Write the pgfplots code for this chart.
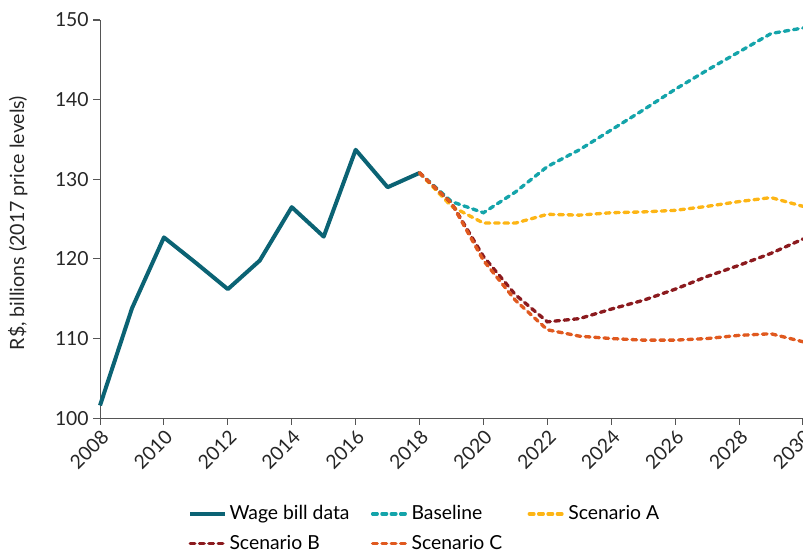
\documentclass[border=0pt]{standalone}
\usepackage{pgfplots}
\pgfplotsset{compat=1.18}
\usepackage{fontspec}
\setmainfont{Lato}
\definecolor{wage}{HTML}{0B6374}
\definecolor{base}{HTML}{14A4AA}
\definecolor{scA}{HTML}{FDB515}
\definecolor{scB}{HTML}{8B1A1E}
\definecolor{scC}{HTML}{E0591F}
\definecolor{axgray}{HTML}{555555}
\begin{document}
\begin{tikzpicture}
\begin{axis}[
  name=ax,
  at={(0,0)}, anchor=south west,
  scale only axis,
  width=527pt, height=298.5pt,
  xmin=2008, xmax=2030, ymin=100, ymax=150,
  xtick={2008,2010,...,2030},
  ytick={100,110,...,150},
  axis x line*=bottom, axis y line*=left,
  axis line style={axgray, line width=0.8pt},
  tick style={axgray, line width=0.8pt},
  tick align=outside,
  major tick length=5pt,
  x tick label style={/pgf/number format/1000 sep={}, rotate=45, anchor=north east, font=\fontsize{14.5}{17}\selectfont, text=black!85, inner sep=2pt},
  y tick label style={font=\fontsize{14.5}{17}\selectfont, text=black!85},
  /pgf/number format/assume math mode=true,
  ylabel={R\$, billions (2017 price levels)},
  ylabel style={font=\fontsize{14.7}{17}\selectfont, text=black!85, at={(axis description cs:-0.117,0.49)}, anchor=center},
  clip=false,
  legend style={at={(0.125,-0.2125)}, anchor=north west, draw=none, inner sep=0pt, font=\fontsize{14.5}{17}\selectfont, row sep=6pt},
  legend columns=3,
  legend cell align=left,
  legend image code/.code={\draw[#1] (0pt,0pt) -- (26pt,0pt);},
]
\addplot[wage, line width=3pt, line join=round] coordinates {
(2008,101.6) (2009,113.8) (2010,122.7) (2011,119.5) (2012,116.2) (2013,119.8) (2014,126.5) (2015,122.8) (2016,133.7) (2017,129.0) (2018,130.8)};
\addlegendentry{\makebox[104pt][l]{Wage bill data}}
\addplot[base, line width=2.5pt, dash pattern=on 3.5pt off 3.5pt, line cap=round] coordinates {
(2018,130.8) (2019,127.2) (2020,125.8) (2021,128.4) (2022,131.6) (2023,133.7) (2024,136.2) (2025,138.7) (2026,141.3) (2027,143.7) (2028,146.0) (2029,148.3) (2030,149.0)};
\addlegendentry{\makebox[85pt][l]{Baseline}}
\addplot[scA, line width=2.5pt, dash pattern=on 3.5pt off 3.5pt, line cap=round] coordinates {
(2018,130.8) (2019,126.6) (2020,124.5) (2021,124.5) (2022,125.6) (2023,125.5) (2024,125.8) (2025,125.9) (2026,126.1) (2027,126.6) (2028,127.2) (2029,127.7) (2030,126.6)};
\addlegendentry{Scenario A}
\addplot[scB, line width=2.5pt, dash pattern=on 3.5pt off 3.5pt, line cap=round] coordinates {
(2018,130.8) (2019,127.0) (2020,120.3) (2021,115.5) (2022,112.1) (2023,112.5) (2024,113.7) (2025,114.8) (2026,116.2) (2027,117.8) (2028,119.2) (2029,120.7) (2030,122.5)};
\addlegendentry{Scenario B}
\addplot[scC, line width=2.5pt, dash pattern=on 3.5pt off 3.5pt, line cap=round] coordinates {
(2018,130.8) (2019,127.0) (2020,119.8) (2021,114.8) (2022,111.1) (2023,110.3) (2024,110.0) (2025,109.8) (2026,109.8) (2027,110.0) (2028,110.4) (2029,110.6) (2030,109.6)};
\addlegendentry{Scenario C}
\end{axis}
\pgfresetboundingbox
\path[use as bounding box] (-75pt,-102pt) rectangle (527pt,313.5pt);
\end{tikzpicture}
\end{document}
